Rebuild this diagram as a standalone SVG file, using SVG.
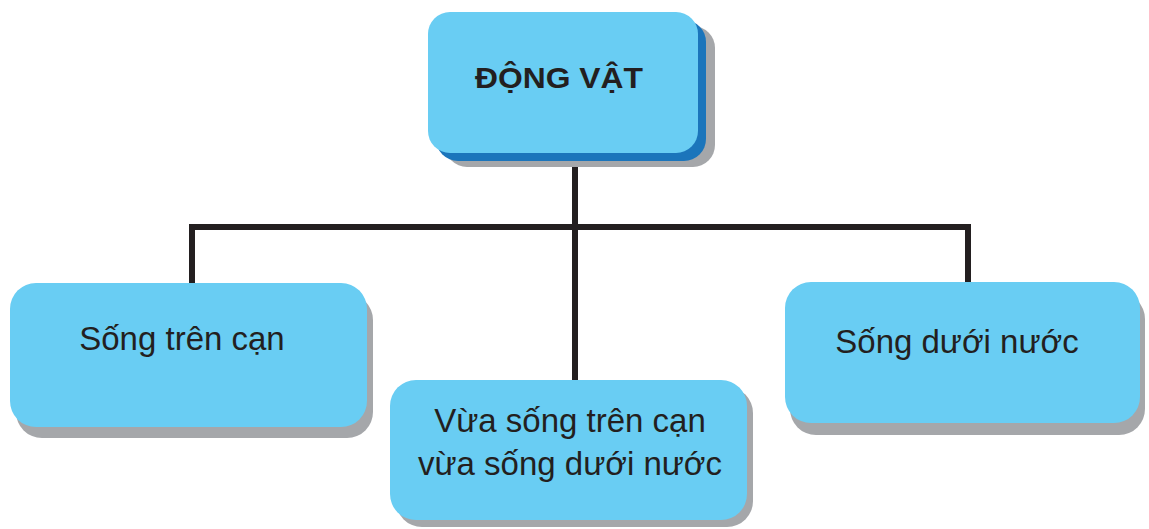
<svg xmlns="http://www.w3.org/2000/svg" width="1149" height="529" viewBox="0 0 1149 529">
<style>
.shadow{fill:#a5a7aa}
.dark{fill:#1b75bb}
.box{fill:#69cdf3}
.lbl{font-family:"Liberation Sans",Arial,sans-serif;font-size:33px;fill:#231f20;text-anchor:middle}
.title{font-family:"Liberation Sans",Arial,sans-serif;font-size:30px;font-weight:bold;fill:#231f20;text-anchor:middle}
.conn{fill:none;stroke:#231f20;stroke-width:6;stroke-linejoin:miter;stroke-linecap:butt}
</style>
<rect width="1149" height="529" fill="#ffffff"/>
<g id="connectors">
<path class="conn" d="M192,283 V227 H968 V282"/>
<path class="conn" d="M575,160 V381"/>
</g>
<g id="node-dong-vat">
<rect class="shadow" x="445" y="26" width="270" height="141" rx="22"/>
<rect class="dark" x="436" y="20" width="270" height="141" rx="22"/>
<rect class="box" x="428" y="12" width="270" height="141" rx="22"/>
<text class="title" x="559" y="88" textLength="168" lengthAdjust="spacingAndGlyphs">ĐỘNG VẬT</text>
</g>
<g id="node-song-tren-can">
<rect class="shadow" x="16" y="294" width="357" height="144" rx="26"/>
<rect class="box" x="10" y="283" width="357" height="144" rx="26"/>
<text class="lbl" x="182" y="350">Sống trên cạn</text>
</g>
<g id="node-vua-song">
<rect class="shadow" x="396" y="387" width="357" height="140" rx="26"/>
<rect class="box" x="390" y="380" width="357" height="140" rx="26"/>
<text class="lbl" x="570" y="432">Vừa sống trên cạn</text>
<text class="lbl" x="570" y="475">vừa sống dưới nước</text>
</g>
<g id="node-song-duoi-nuoc">
<rect class="shadow" x="790" y="293" width="355" height="142" rx="26"/>
<rect class="box" x="785" y="282" width="355" height="141" rx="26"/>
<text class="lbl" x="957" y="353">Sống dưới nước</text>
</g>
</svg>
